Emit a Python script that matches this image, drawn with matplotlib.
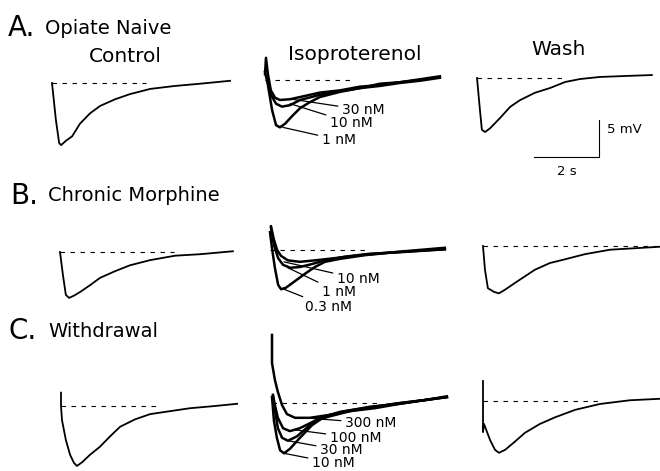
import numpy as np
import matplotlib
matplotlib.use('Agg')
import matplotlib.pyplot as plt

plt.rcParams['font.family'] = ['DejaVu Sans']

# ---- data (time in s, voltage in mV, 0 = resting baseline) ----
# A. opiate naive
a_ctrl_t = [0, 0.12, 0.22, 0.28, 0.43, 0.62, 0.86, 1.17, 1.48, 1.94, 2.4, 3.02, 3.78, 4.55, 5.48]
a_ctrl_v = [0, -5.0, -8.1, -8.4, -7.8, -7.2, -5.5, -4.1, -3.1, -2.2, -1.5, -0.8, -0.4, -0.1, 0.3]

a_iso = {
    '30 nM': ([0, 0.03, 0.09, 0.18, 0.31, 0.46, 0.77, 1.08, 1.69, 2.31, 2.92, 3.54, 4.15, 4.77, 5.38],
              [0.8, 3.0, 0.8, -1.4, -2.4, -2.7, -2.6, -2.3, -1.7, -1.4, -0.9, -0.7, -0.3, 0, 0.4]),
    '10 nM': ([0.06, 0.18, 0.34, 0.52, 0.77, 1.08, 1.69, 2.31, 2.92, 3.54, 4.15, 4.77, 5.38],
              [0.5, -2.0, -3.2, -3.6, -3.4, -2.7, -2.0, -1.5, -1.1, -0.8, -0.4, -0.1, 0.3]),
    '1 nM': ([0, 0.09, 0.22, 0.34, 0.46, 0.62, 0.83, 1.08, 1.38, 1.69, 2.31, 2.92, 3.54, 4.15, 4.77, 5.38],
             [1.1, -0.7, -4.1, -6.1, -6.4, -5.9, -4.9, -3.8, -3.0, -2.3, -1.6, -1.1, -0.5, -0.3, 0.1, 0.5]),
}

a_wash_t = [0, 0.09, 0.15, 0.25, 0.4, 0.71, 1.02, 1.32, 1.78, 2.25, 2.71, 3.17, 3.78, 4.55, 5.38]
a_wash_v = [0, -4.3, -7.0, -7.3, -6.8, -5.4, -3.9, -3.0, -2.0, -1.35, -0.54, -0.14, 0.14, 0.27, 0.4]

# B. chronic morphine
b_ctrl_t = [0, 0.09, 0.18, 0.28, 0.43, 0.62, 0.92, 1.23, 1.69, 2.15, 2.77, 3.54, 4.31, 5.32]
b_ctrl_v = [0, -3.1, -5.8, -6.2, -5.9, -5.4, -4.5, -3.5, -2.6, -1.8, -1.1, -0.5, -0.3, 0.1]

b_iso = {
    '10 nM': ([0.03, 0.12, 0.22, 0.34, 0.55, 0.92, 1.38, 2.0, 2.77, 3.54, 4.31, 5.38],
              [3.2, 1.4, 0, -0.8, -1.4, -1.6, -1.4, -1.1, -0.7, -0.4, -0.1, 0.3]),
    '1 nM': ([0.03, 0.12, 0.25, 0.4, 0.62, 0.92, 1.29, 1.69, 2.31, 3.08, 4.0, 5.38],
             [3.0, 0.7, -1.1, -2.0, -2.4, -2.3, -1.9, -1.4, -0.9, -0.5, -0.3, 0.1]),
    '0.3 nM': ([0, 0.06, 0.15, 0.25, 0.34, 0.49, 0.77, 1.08, 1.38, 1.69, 2.15, 2.92, 3.85, 5.38],
               [2.4, 0.3, -2.4, -4.7, -5.3, -5.1, -4.2, -3.2, -2.3, -1.6, -1.2, -0.7, -0.3, 0.1]),
}

b_wash_t = [0, 0.06, 0.15, 0.34, 0.49, 0.68, 0.98, 1.29, 1.6, 2.06, 2.52, 3.14, 3.91, 4.68, 5.45]
b_wash_v = [0, -3.2, -5.7, -6.2, -6.4, -5.9, -5.0, -4.1, -3.2, -2.3, -1.8, -1.1, -0.5, -0.3, -0.1]

# C. withdrawal
c_ctrl_t = [0, 0, 0.03, 0.15, 0.28, 0.4, 0.49, 0.65, 0.89, 1.2, 1.51, 1.82, 2.28, 2.74, 3.35, 3.97, 4.74, 5.42]
c_ctrl_v = [1.8, 0, -1.9, -4.6, -6.6, -7.7, -8.1, -7.6, -6.6, -5.5, -4.1, -2.8, -1.8, -1.1, -0.7, -0.3, 0, 0.3]

c_iso = {
    '300 nM': ([0, 0, 0.09, 0.18, 0.31, 0.46, 0.71, 1.17, 1.78, 2.4, 3.17, 3.94, 4.71, 5.38],
               [9.2, 5.4, 3.1, 1.5, -0.3, -1.5, -2.0, -2.0, -1.6, -1.1, -0.7, -0.1, 0.4, 0.8]),
    '100 nM': ([0.03, 0.09, 0.18, 0.34, 0.55, 0.86, 1.32, 1.78, 2.4, 3.17, 3.94, 4.71, 5.38],
               [1.1, -0.3, -2.0, -3.4, -3.8, -3.4, -2.4, -1.8, -1.1, -0.5, 0, 0.4, 0.9]),
    '30 nM': ([0.03, 0.09, 0.18, 0.31, 0.49, 0.77, 1.11, 1.48, 2.09, 2.86, 3.78, 4.71, 5.38],
              [0.9, -0.9, -3.4, -4.7, -5.1, -4.5, -3.2, -2.0, -1.2, -0.7, -0.1, 0.4, 0.8]),
    '10 nM': ([0, 0.06, 0.15, 0.25, 0.37, 0.55, 0.86, 1.23, 1.63, 2.25, 3.02, 3.94, 4.71, 5.38],
              [0.8, -2.4, -4.7, -6.4, -6.8, -6.2, -4.7, -3.0, -1.8, -1.1, -0.5, -0.1, 0.4, 0.8]),
}

c_wash_t = [0, 0, 0.03, 0.22, 0.37, 0.49, 0.68, 0.98, 1.29, 1.75, 2.22, 2.83, 3.6, 4.52, 5.45]
c_wash_v = [2.7, -4.2, -3.1, -5.3, -6.6, -7.0, -6.6, -5.5, -4.3, -3.1, -2.2, -1.2, -0.4, 0.1, 0.3]

# label anchor (point on trace) and text position, (t, V)
a_labels = {'30 nM': ((0.83, -2.6), (2.37, -4.05)),
            '10 nM': ((0.77, -3.2), (2.0, -5.8)),
            '1 nM': ((0.55, -6.4), (1.75, -8.1))}
b_labels = {'10 nM': ((0.43, -1.6), (2.06, -3.9)),
            '1 nM': ((0.55, -2.4), (1.6, -5.7)),
            '0.3 nM': ((0.43, -5.3), (1.08, -7.7))}
c_labels = {'300 nM': ((1.0, -2.0), (2.25, -2.7)),
            '100 nM': ((0.65, -3.6), (1.78, -4.7)),
            '30 nM': ((0.49, -5.1), (1.48, -6.4)),
            '10 nM': ((0.37, -6.8), (1.23, -8.1))}

# dashed baseline lengths (s)
base_len = {'a': (2.9, 2.6, 2.7), 'b': (3.5, 3.0, 5.4), 'c': (3.0, 3.3, 3.6)}

scale_t = 2   # s
scale_v = 5   # mV

# ---- layout ----
W, H = 660, 471
PX_S = 32.5    # pixels per second
PX_MV = 7.4    # pixels per mV
T0, T1 = -0.5, 6.0
V0, V1 = -14, 10

fig = plt.figure(figsize=(6.6, 4.71), dpi=100)


def panel(x0, y0):
    # x0, y0 = pixel position of trace start on the baseline
    left = x0 + T0 * PX_S
    top = y0 - V1 * PX_MV
    ax = fig.add_axes([left / W, 1 - (top + (V1 - V0) * PX_MV) / H,
                       (T1 - T0) * PX_S / W, (V1 - V0) * PX_MV / H])
    ax.set_xlim(T0, T1)
    ax.set_ylim(V0, V1)
    ax.axis('off')
    ax.patch.set_alpha(0)
    return ax


def baseline(ax, length):
    ax.plot([0, length], [0, 0], color='k', lw=0.8, ls=(0, (4, 5)))


def iso_panel(ax, traces, labels, length):
    baseline(ax, length)
    for name, (t, v) in traces.items():
        ax.plot(t, v, color='k', lw=1.8, solid_joinstyle='round')
    for name, (xy, xyt) in labels.items():
        ax.annotate(name, xy=xy, xytext=xyt, fontsize=10, ha='left', va='center',
                    arrowprops=dict(arrowstyle='-', lw=0.9, color='k',
                                    shrinkA=1, shrinkB=0))


# row A
ax = panel(52, 83)
baseline(ax, base_len['a'][0])
ax.plot(a_ctrl_t, a_ctrl_v, color='k', lw=1.3)
ax = panel(265, 80)
iso_panel(ax, a_iso, a_labels, base_len['a'][1])
ax = panel(477, 78)
baseline(ax, base_len['a'][2])
ax.plot(a_wash_t, a_wash_v, color='k', lw=1.3)
# scale bar
sx, sy = 3.75, -10.7
ax.plot([sx - scale_t, sx, sx], [sy, sy, sy + scale_v], color='k', lw=0.8)
ax.text(sx + 0.25, sy + scale_v * 0.75, '%d mV' % scale_v, fontsize=9.5, va='center')
ax.text(sx - scale_t / 2, sy - 2.0, '%d s' % scale_t, fontsize=9.5, ha='center', va='center')

# row B
ax = panel(60, 252)
baseline(ax, base_len['b'][0])
ax.plot(b_ctrl_t, b_ctrl_v, color='k', lw=1.3)
ax = panel(270, 250)
iso_panel(ax, b_iso, b_labels, base_len['b'][1])
ax = panel(483, 246)
baseline(ax, base_len['b'][2])
ax.plot(b_wash_t, b_wash_v, color='k', lw=1.3)

# row C
ax = panel(61, 406)
baseline(ax, base_len['c'][0])
ax.plot(c_ctrl_t, c_ctrl_v, color='k', lw=1.3)
ax = panel(272, 403)
iso_panel(ax, c_iso, c_labels, base_len['c'][1])
ax = panel(483, 401)
baseline(ax, base_len['c'][2])
ax.plot(c_wash_t, c_wash_v, color='k', lw=1.3)


# ---- text ----
def ftext(x, y, s, size, **kw):
    fig.text(x / W, 1 - y / H, s, fontsize=size, va='baseline', **kw)


ftext(8, 36, 'A.', 20)
ftext(45, 34, 'Opiate Naive', 14)
ftext(125, 62, 'Control', 14.5, ha='center')
ftext(355, 60, 'Isoproterenol', 14.5, ha='center')
ftext(559, 55, 'Wash', 14.5, ha='center')
ftext(10, 204, 'B.', 20)
ftext(48, 201, 'Chronic Morphine', 14)
ftext(8, 339, 'C.', 20)
ftext(48, 337, 'Withdrawal', 14)

fig.savefig('out.png', dpi=100)
